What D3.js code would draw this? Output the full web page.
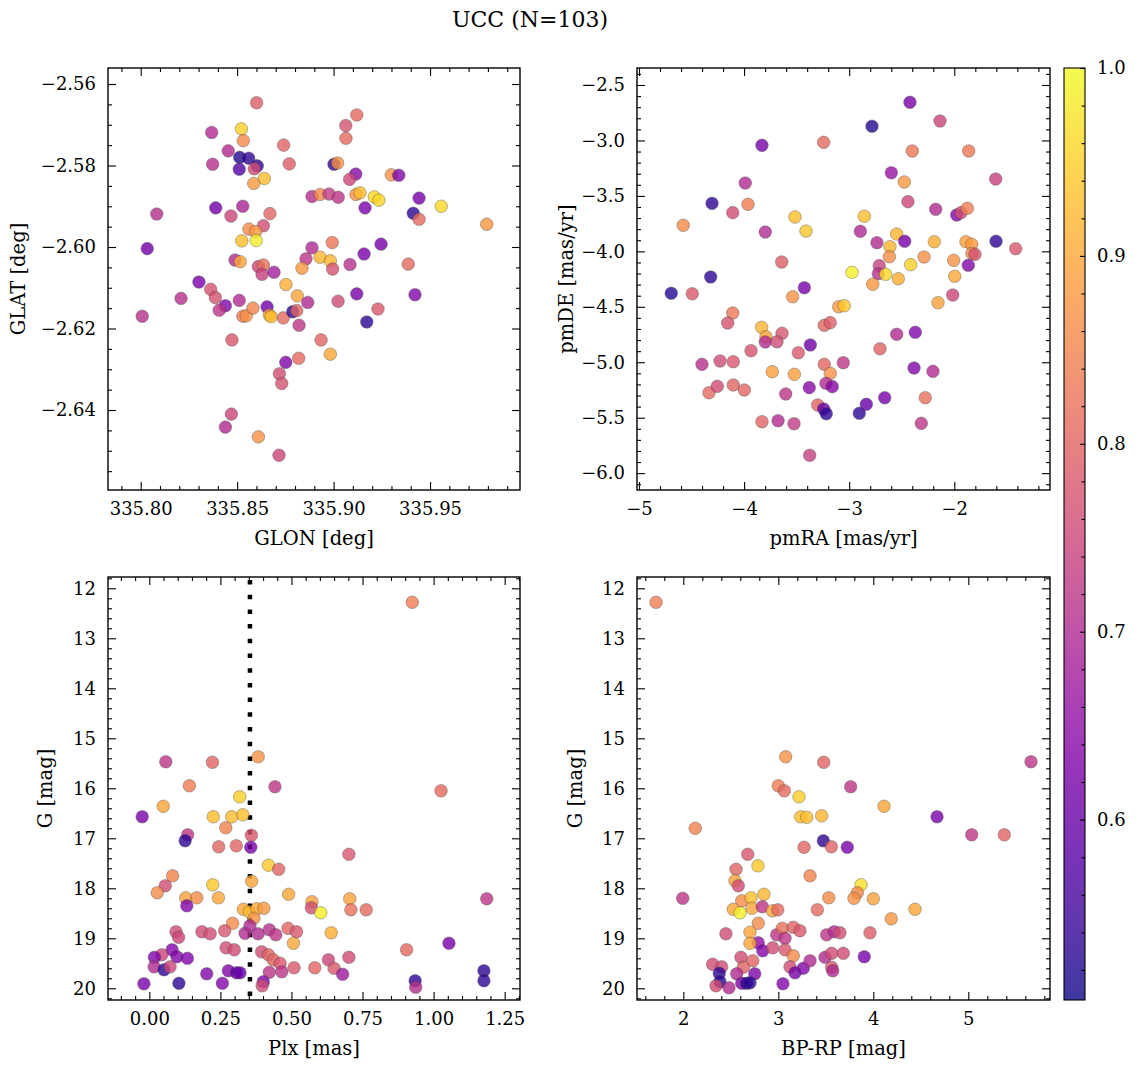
<!DOCTYPE html>
<html><head><meta charset="utf-8">
<script src="https://cdn.jsdelivr.net/npm/d3@7"></script>
<style>body{margin:0;background:#fff} svg text{font-family:"DejaVu Serif",serif !important;fill:#000}</style>
</head><body><svg id="c" width="1136" height="1067"></svg>
<script>
// ---------------- DATA ----------------
const titleText = "UCC (N=103)";
const colorMin = 0.504, colorMax = 1.0;
const colorTicks = [0.6, 0.7, 0.8, 0.9, 1.0];

// Panel 1: GLON / GLAT
const glon = [335.8601,335.8368,335.8522,335.8532,335.8741,335.8454,335.8513,335.8560,335.8373,335.8511,335.8604,335.8589,335.8770,335.8641,335.8586,335.8888,335.8083,335.8389,335.8529,335.8468,335.8670,335.8636,335.8561,335.8596,335.8524,335.8599,335.8034,335.8888,335.8489,335.8516,335.8857,335.8610,335.8636,335.8629,335.8691,335.8836,335.8302,335.8363,335.8753,335.8209,335.8387,335.8511,335.8812,335.8439,335.8407,335.8655,335.8866,335.8008,335.8530,335.8547,335.8582,335.8667,335.8676,335.8739,335.8788,335.8809,335.8821,335.8473,335.8935,335.8752,335.8819,335.8719,335.8731,335.8470,335.8439,335.8610,335.8717,335.9120,335.9063,335.9064,335.9002,335.9021,335.9115,335.9083,335.9299,335.9338,335.8930,335.8976,335.9024,335.9116,335.9137,335.9211,335.9235,335.9163,335.9443,335.9413,335.9443,335.9558,335.9794,335.8993,335.9246,335.8930,335.8983,335.8995,335.9158,335.9085,335.9387,335.9023,335.9120,335.9422,335.9230,335.9172,335.8983];
const glat = [-2.5646,-2.5719,-2.5710,-2.5739,-2.5750,-2.5764,-2.5780,-2.5782,-2.5797,-2.5809,-2.5801,-2.5808,-2.5796,-2.5832,-2.5844,-2.5876,-2.5919,-2.5904,-2.5900,-2.5924,-2.5918,-2.5948,-2.5956,-2.5962,-2.5985,-2.5984,-2.6004,-2.6002,-2.6032,-2.6036,-2.6029,-2.6048,-2.6044,-2.6067,-2.6062,-2.6052,-2.6086,-2.6104,-2.6092,-2.6126,-2.6124,-2.6131,-2.6120,-2.6144,-2.6155,-2.6147,-2.6136,-2.6170,-2.6170,-2.6169,-2.6150,-2.6167,-2.6171,-2.6174,-2.6159,-2.6156,-2.6192,-2.6228,-2.6228,-2.6283,-2.6273,-2.6311,-2.6335,-2.6410,-2.6442,-2.6466,-2.6511,-2.5676,-2.5702,-2.5733,-2.5797,-2.5794,-2.5821,-2.5834,-2.5823,-2.5824,-2.5871,-2.5870,-2.5878,-2.5871,-2.5867,-2.5877,-2.5885,-2.5904,-2.5880,-2.5917,-2.5932,-2.5900,-2.5944,-2.5989,-2.5993,-2.6025,-2.6034,-2.6054,-2.6017,-2.6043,-2.6042,-2.6133,-2.6115,-2.6117,-2.6152,-2.6184,-2.6263];
const probPos = [.79,.70,.95,.86,.80,.70,.52,.53,.71,.57,.53,.76,.79,.93,.88,.71,.71,.61,.69,.75,.80,.76,.86,.88,.93,.99,.61,.70,.70,.90,.72,.75,.82,.74,.68,.88,.62,.77,.91,.71,.77,.70,.90,.63,.72,.61,.70,.71,.84,.87,.85,.90,.93,.81,.53,.80,.72,.78,.80,.63,.81,.76,.77,.75,.70,.87,.75,.81,.77,.81,.53,.87,.64,.75,.87,.63,.86,.73,.72,.87,.93,.96,.96,.62,.62,.53,.81,.96,.88,.83,.62,.92,.92,.77,.62,.71,.81,.76,.62,.63,.78,.53,.90];

// Panel 2: pmRA / pmDE
const pmRA = [-3.830,-3.243,-3.989,-4.305,-4.108,-3.963,-4.579,-3.798,-3.516,-3.411,-3.642,-4.318,-4.693,-4.493,-3.427,-3.538,-2.973,-3.100,-3.047,-4.108,-4.156,-3.833,-3.792,-3.798,-3.639,-3.687,-3.934,-3.484,-3.370,-3.237,-3.180,-4.401,-4.229,-4.103,-3.732,-3.522,-3.237,-3.180,-3.056,-4.334,-4.255,-4.103,-3.998,-3.604,-3.380,-3.221,-3.161,-3.300,-3.243,-3.218,-3.830,-3.677,-3.525,-3.376,-2.422,-2.136,-2.783,-2.400,-1.863,-2.599,-2.476,-1.606,-2.441,-2.177,-1.977,-1.936,-1.876,-2.856,-2.894,-2.736,-2.548,-2.472,-2.612,-2.618,-2.190,-1.889,-1.834,-1.832,-1.803,-1.603,-1.416,-2.288,-2.006,-1.867,-2.714,-2.723,-2.653,-2.776,-2.533,-2.415,-1.996,-2.015,-2.155,-2.548,-2.371,-2.707,-2.383,-2.203,-2.662,-2.276,-2.904,-2.837,-2.314];
const pmDE = [-3.044,-3.017,-3.384,-3.567,-3.651,-3.576,-3.765,-3.826,-3.690,-3.817,-4.096,-4.231,-4.378,-4.382,-4.328,-4.409,-4.189,-4.499,-4.490,-4.556,-4.646,-4.685,-4.770,-4.817,-4.739,-4.815,-4.896,-4.914,-4.844,-4.667,-4.643,-5.019,-4.989,-4.995,-5.085,-5.109,-5.019,-5.100,-5.004,-5.275,-5.217,-5.205,-5.250,-5.286,-5.229,-5.190,-5.220,-5.385,-5.422,-5.464,-5.536,-5.527,-5.554,-5.839,-2.656,-2.825,-2.872,-3.095,-3.095,-3.291,-3.375,-3.348,-3.552,-3.621,-3.672,-3.651,-3.612,-3.684,-3.819,-3.922,-3.844,-3.909,-3.958,-4.048,-3.913,-3.913,-3.936,-4.018,-4.027,-3.909,-3.976,-4.051,-4.081,-4.126,-4.129,-4.202,-4.207,-4.297,-4.247,-4.120,-4.225,-4.394,-4.463,-4.748,-4.730,-4.878,-5.052,-5.082,-5.320,-5.320,-5.460,-5.379,-5.551];
const probPm = [.62,.81,.70,.53,.76,.84,.86,.70,.93,.94,.79,.53,.52,.78,.62,.87,.99,.88,.94,.83,.77,.92,.90,.70,.78,.76,.77,.78,.61,.80,.79,.71,.76,.78,.89,.89,.80,.87,.72,.81,.76,.80,.80,.72,.64,.70,.64,.80,.60,.53,.80,.70,.73,.74,.62,.75,.52,.83,.83,.66,.88,.74,.75,.70,.63,.76,.84,.93,.70,.70,.92,.62,.92,.87,.91,.89,.88,.86,.77,.53,.78,.87,.87,.63,.74,.71,.96,.88,.91,.95,.90,.75,.89,.70,.63,.80,.63,.70,.62,.82,.53,.60,.72];

// Panel 3: Plx / G
const plx = [.383,.058,.222,.141,.442,.318,.049,-.025,.225,.290,.329,.269,.135,.126,.359,.357,.244,.306,.419,.455,.082,.056,.028,.223,.243,.360,.128,.167,.132,.490,.572,.570,.603,.331,.352,.378,.403,.368,.293,.094,.103,.185,.214,.265,.337,.354,.383,.422,.445,.488,.518,.507,.080,.044,.018,.097,.134,.017,.052,.073,.270,.299,.395,.419,.436,.460,.509,.582,.422,.466,.202,.278,.307,.319,-.019,.104,.257,.401,.397,.925,1.026,.702,.705,.709,.763,1.187,.640,.905,1.054,.630,.702,.650,.680,.935,.937,1.177,1.177];
const gPlx = [15.37,15.47,15.48,15.95,15.97,16.17,16.36,16.57,16.57,16.57,16.53,16.79,16.93,17.05,16.94,17.18,17.17,17.15,17.54,17.62,17.75,17.95,18.09,17.93,18.19,17.86,18.19,18.19,18.35,18.12,18.27,18.39,18.49,18.42,18.47,18.41,18.40,18.60,18.70,18.87,18.98,18.87,18.91,18.85,18.90,18.75,18.91,18.83,18.93,18.80,18.87,19.10,19.23,19.33,19.38,19.37,19.40,19.57,19.63,19.57,19.19,19.23,19.27,19.33,19.43,19.50,19.59,19.59,19.68,19.67,19.71,19.65,19.69,19.69,19.91,19.90,19.90,19.87,19.95,12.28,16.05,17.32,18.21,18.43,18.43,18.21,18.89,19.23,19.10,19.43,19.38,19.60,19.72,19.85,19.98,19.65,19.85];
const probPlx = [.87,.72,.80,.84,.72,.95,.90,.62,.93,.93,.93,.85,.72,.53,.78,.62,.80,.80,.94,.80,.85,.76,.86,.94,.90,.90,.89,.86,.63,.90,.89,.76,.99,.90,.93,.90,.88,.87,.86,.76,.75,.76,.76,.78,.70,.70,.70,.71,.72,.80,.78,.90,.63,.75,.63,.63,.63,.70,.53,.75,.76,.76,.76,.80,.80,.78,.78,.80,.72,.72,.63,.63,.60,.60,.62,.53,.63,.63,.76,.84,.81,.78,.89,.82,.81,.72,.91,.81,.62,.75,.76,.78,.67,.53,.71,.53,.53];
const plxCut = 0.354;

// Panel 4: BP-RP / G
const bprp = [1.713,3.078,3.478,3.000,3.063,3.218,2.126,3.236,3.299,3.457,3.474,3.558,3.271,3.726,2.678,2.786,2.555,2.544,2.579,3.334,1.994,2.615,2.713,2.849,3.531,2.526,2.597,2.723,2.832,2.937,2.994,3.411,2.789,2.449,2.702,2.789,2.702,2.983,3.042,3.071,3.158,3.228,3.509,3.589,3.649,2.836,2.941,3.071,3.158,2.607,2.731,2.309,2.404,2.632,2.562,2.752,2.379,2.386,2.344,2.481,2.615,2.667,2.702,3.049,3.123,3.176,3.263,3.334,3.492,3.562,3.562,3.573,3.684,5.660,3.762,4.113,4.671,5.036,5.379,3.871,3.832,3.797,4.000,4.189,4.439,3.965,3.905];
const gCmd = [12.28,15.37,15.48,15.95,16.05,16.17,16.80,16.57,16.58,16.55,17.05,17.17,17.18,17.18,17.32,17.55,17.62,17.85,17.95,17.75,18.20,18.25,18.19,18.12,18.19,18.42,18.49,18.40,18.37,18.45,18.43,18.43,18.70,18.91,18.88,19.09,19.10,18.93,18.80,19.00,18.78,18.85,18.93,18.87,18.89,19.25,19.19,19.23,19.35,19.38,19.45,19.52,19.57,19.58,19.71,19.71,19.70,19.87,19.95,19.99,19.90,19.90,19.89,19.91,19.57,19.69,19.60,19.45,19.38,19.30,19.58,19.65,19.30,15.47,15.97,16.36,16.57,16.93,16.93,17.93,18.09,18.20,18.21,18.61,18.42,18.89,19.37];
const probCmd = [.84,.87,.80,.84,.81,.95,.85,.93,.93,.92,.53,.80,.80,.62,.78,.94,.80,.90,.76,.85,.72,.86,.93,.92,.86,.90,.99,.90,.72,.90,.81,.81,.86,.76,.90,.65,.90,.72,.82,.72,.80,.78,.72,.70,.76,.63,.76,.78,.86,.76,.80,.76,.76,.80,.70,.63,.53,.53,.76,.70,.63,.53,.53,.63,.76,.62,.63,.70,.70,.76,.78,.70,.76,.72,.72,.90,.62,.72,.80,.97,.86,.87,.89,.88,.90,.79,.62];

// tick values / labels
const glonTicks = [335.80, 335.85, 335.90, 335.95];
const glatTicks = [-2.56, -2.58, -2.60, -2.62, -2.64];
const pmRATicks = [-5, -4, -3, -2];
const pmDETicks = [-2.5, -3.0, -3.5, -4.0, -4.5, -5.0, -5.5, -6.0];
const plxTicks = [0.00, 0.25, 0.50, 0.75, 1.00, 1.25];
const gTicks = [12, 13, 14, 15, 16, 17, 18, 19, 20];
const bprpTicks = [2, 3, 4, 5];

// ---------------- DRAW ----------------
const SERIF = "'DejaVu Serif', serif";
const svg = d3.select("#c");
const TICKFS = 18, LABELFS = 19.5;
const cNorm = d3.scaleLinear().domain([colorMin, colorMax]).range([0, 1]).clamp(true);
const col = p => d3.interpolatePlasma(cNorm(p));

function minorTicks(lo, hi, step, majors) {
  const a = Math.min(lo, hi), b = Math.max(lo, hi);
  const out = [];
  for (let i = Math.ceil(a / step - 1e-9); i <= Math.floor(b / step + 1e-9); i++) {
    const v = +(i * step).toFixed(6);
    if (!majors.some(m => Math.abs(m - v) < step * 1e-3)) out.push(v);
  }
  return out;
}

function styleAxis(sel) {
  sel.attr("font-family", SERIF);
  sel.select(".domain").remove();
  sel.selectAll(".tick line").attr("stroke", "#000").attr("stroke-width", 1.1);
  sel.selectAll(".tick text").style("font-family", SERIF).style("font-size", TICKFS + "px").attr("fill", "#000");
}

function panel(o) {
  const x = d3.scaleLinear().domain(o.xDom).range([o.x0, o.x1]);
  const y = d3.scaleLinear().domain(o.yDom).range([o.y1, o.y0]);
  const g = svg.append("g").attr("font-family", SERIF);
  const xMin = minorTicks(o.xDom[0], o.xDom[1], o.xMinorStep, o.xTicks);
  const yMin = minorTicks(o.yDom[0], o.yDom[1], o.yMinorStep, o.yTicks);
  const MAJ = 8, MIN = 4;
  if (o.extra) o.extra(g, x, y);
  const pts = o.xs.map((v, i) => ({ x: v, y: o.ys[i], p: o.ps[i] }));
  g.append("g").selectAll("circle").data(pts).join("circle")
    .attr("cx", d => x(d.x)).attr("cy", d => y(d.y)).attr("r", 6.3)
    .attr("fill", d => col(d.p)).attr("stroke", "#3a3a3a").attr("stroke-width", 0.45)
    .attr("opacity", 0.8);
  g.append("g").attr("transform", `translate(0,${o.y1})`)
    .call(d3.axisBottom(x).tickValues(o.xTicks).tickFormat(o.xFmt).tickSize(-MAJ).tickPadding(12)).call(styleAxis);
  g.append("g").attr("transform", `translate(0,${o.y1})`)
    .call(d3.axisBottom(x).tickValues(xMin).tickFormat("").tickSize(-MIN)).call(styleAxis);
  g.append("g").attr("transform", `translate(0,${o.y0})`)
    .call(d3.axisTop(x).tickValues(o.xTicks).tickFormat("").tickSize(-MAJ)).call(styleAxis);
  g.append("g").attr("transform", `translate(0,${o.y0})`)
    .call(d3.axisTop(x).tickValues(xMin).tickFormat("").tickSize(-MIN)).call(styleAxis);
  g.append("g").attr("transform", `translate(${o.x0},0)`)
    .call(d3.axisLeft(y).tickValues(o.yTicks).tickFormat(o.yFmt).tickSize(-MAJ).tickPadding(12)).call(styleAxis);
  g.append("g").attr("transform", `translate(${o.x0},0)`)
    .call(d3.axisLeft(y).tickValues(yMin).tickFormat("").tickSize(-MIN)).call(styleAxis);
  g.append("g").attr("transform", `translate(${o.x1},0)`)
    .call(d3.axisRight(y).tickValues(o.yTicks).tickFormat("").tickSize(-MAJ)).call(styleAxis);
  g.append("g").attr("transform", `translate(${o.x1},0)`)
    .call(d3.axisRight(y).tickValues(yMin).tickFormat("").tickSize(-MIN)).call(styleAxis);
  g.append("rect").attr("x", o.x0).attr("y", o.y0).attr("width", o.x1 - o.x0).attr("height", o.y1 - o.y0)
    .attr("fill", "none").attr("stroke", "#000").attr("stroke-width", 1.4);
  g.append("text").attr("x", (o.x0 + o.x1) / 2).attr("y", o.y1 + 48).attr("text-anchor", "middle")
    .attr("dominant-baseline", "central").style("font-family", SERIF).style("font-size", LABELFS + "px").text(o.xLabel);
  g.append("text").attr("transform", `translate(${o.yLabelX},${(o.y0 + o.y1) / 2}) rotate(-90)`)
    .attr("text-anchor", "middle").attr("dominant-baseline", "central")
    .style("font-family", SERIF).style("font-size", LABELFS + "px").text(o.yLabel);
}

const f2 = d3.format(".2f"), f1 = d3.format(".1f"), f0 = d3.format("d");

panel({ x0: 108, x1: 520, y0: 68, y1: 490, xDom: [335.78305, 335.99663], yDom: [-2.65963, -2.55607],
  xs: glon, ys: glat, ps: probPos, xTicks: glonTicks, yTicks: glatTicks, xMinorStep: 0.01, yMinorStep: 0.005,
  xFmt: f2, yFmt: f2, xLabel: "GLON [deg]", yLabel: "GLAT [deg]", yLabelX: 18 });

panel({ x0: 637, x1: 1050, y0: 68, y1: 490, xDom: [-5.019, -1.0894], yDom: [-6.152, -2.3467],
  xs: pmRA, ys: pmDE, ps: probPm, xTicks: pmRATicks, yTicks: pmDETicks, xMinorStep: 0.2, yMinorStep: 0.1,
  xFmt: f0, yFmt: f1, xLabel: "pmRA [mas/yr]", yLabel: "pmDE [mas/yr]", yLabelX: 566 });

panel({ x0: 108, x1: 520, y0: 577, y1: 1000, xDom: [-0.1453, 1.3039], yDom: [20.234, 11.774],
  xs: plx, ys: gPlx, ps: probPlx, xTicks: plxTicks, yTicks: gTicks, xMinorStep: 0.05, yMinorStep: 0.2,
  xFmt: f2, yFmt: f0, xLabel: "Plx [mas]", yLabel: "G [mag]", yLabelX: 45,
  extra: (g, x, y) => {
    g.append("line").attr("x1", x(plxCut)).attr("x2", x(plxCut)).attr("y1", 577).attr("y2", 1000)
      .attr("stroke", "#000").attr("stroke-width", 4.5).attr("stroke-dasharray", "4.5,10.2")
      .attr("stroke-dashoffset", -3);
  } });

panel({ x0: 637, x1: 1050, y0: 577, y1: 1000, xDom: [1.5126, 5.86], yDom: [20.234, 11.774],
  xs: bprp, ys: gCmd, ps: probCmd, xTicks: bprpTicks, yTicks: gTicks, xMinorStep: 0.2, yMinorStep: 0.2,
  xFmt: f0, yFmt: f0, xLabel: "BP-RP [mag]", yLabel: "G [mag]", yLabelX: 575 });

// ---------------- COLORBAR ----------------
const cb = { x0: 1064, x1: 1085, y0: 68, y1: 1000 };
const defs = svg.append("defs");
const grad = defs.append("linearGradient").attr("id", "plasma").attr("x1", 0).attr("y1", 1).attr("x2", 0).attr("y2", 0);
d3.range(0, 1.0001, 0.05).forEach(t => grad.append("stop").attr("offset", t).attr("stop-color", d3.interpolatePlasma(t)));
svg.append("rect").attr("x", cb.x0).attr("y", cb.y0).attr("width", cb.x1 - cb.x0).attr("height", cb.y1 - cb.y0)
  .attr("fill", "url(#plasma)").attr("fill-opacity", 0.8);
const cy = d3.scaleLinear().domain([colorMin, colorMax]).range([cb.y1, cb.y0]);
svg.append("g").attr("transform", `translate(${cb.x1},0)`)
  .call(d3.axisRight(cy).tickValues(colorTicks).tickFormat(f1).tickSize(-5).tickPadding(12)).call(styleAxis);
svg.append("g").attr("transform", `translate(${cb.x1},0)`)
  .call(d3.axisRight(cy).tickValues(minorTicks(colorMin, colorMax, 0.02, colorTicks)).tickFormat("").tickSize(-3.5)).call(styleAxis);
svg.append("rect").attr("x", cb.x0).attr("y", cb.y0).attr("width", cb.x1 - cb.x0).attr("height", cb.y1 - cb.y0)
  .attr("fill", "none").attr("stroke", "#000").attr("stroke-width", 1.1);

// ---------------- TITLE ----------------
svg.append("text").attr("x", 530).attr("y", 19.5).attr("text-anchor", "middle").attr("dominant-baseline", "central")
  .style("font-family", SERIF).style("font-size", "22px").text(titleText);
</script></body></html>
